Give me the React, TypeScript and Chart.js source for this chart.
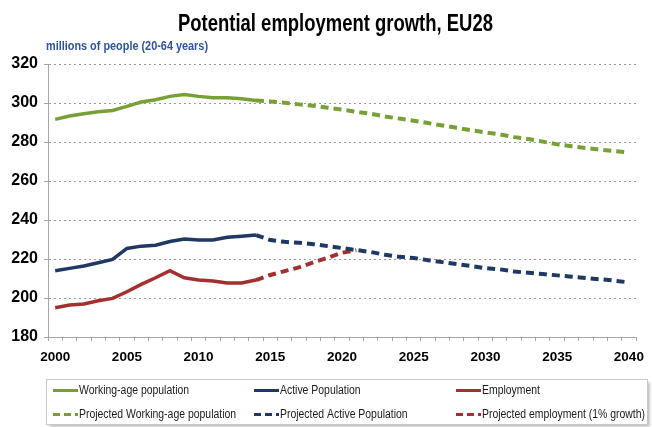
import React, { useEffect, useRef } from "react";
import { Chart, registerables } from "chart.js";

Chart.register(...registerables);

const years = [
  "2000", "2001", "2002", "2003", "2004", "2005", "2006", "2007", "2008", "2009",
  "2010", "2011", "2012", "2013", "2014", "2015", "2016", "2017", "2018", "2019",
  "2020", "2021", "2022", "2023", "2024", "2025", "2026", "2027", "2028", "2029",
  "2030", "2031", "2032", "2033", "2034", "2035", "2036", "2037", "2038", "2039",
  "2040",
];

const yTicks = [180, 200, 220, 240, 260, 280, 300, 320];

// 2000-2014
const workingAge = [291.6, 293.3, 294.5, 295.5, 296.2, 298.3, 300.5, 301.7, 303.4, 304.4, 303.4, 302.7, 302.7, 302.2, 301.3];
const active = [214.0, 215.2, 216.4, 218.1, 219.8, 225.4, 226.6, 227.1, 229.0, 230.3, 229.7, 229.7, 231.1, 231.7, 232.3];
const employment = [195.0, 196.4, 196.9, 198.6, 199.8, 203.2, 207.0, 210.4, 214.0, 210.4, 209.2, 208.7, 207.7, 207.7, 209.2];

// 2014-2040
const projWorkingAge = [301.3, 300.8, 300.1, 299.3, 298.6, 297.6, 296.6, 295.5, 294.5, 293.1, 292.0, 290.9, 289.7, 288.5, 287.3, 286.0, 284.9, 283.9, 282.5, 281.5, 280.2, 278.8, 277.8, 276.9, 276.1, 275.4, 274.6];
const projActive = [232.3, 229.7, 228.8, 228.3, 227.6, 226.6, 225.6, 224.6, 223.6, 222.2, 221.1, 220.5, 219.4, 218.4, 217.4, 216.4, 215.3, 214.7, 213.6, 212.9, 212.3, 211.6, 210.9, 210.2, 209.6, 208.9, 208.0];
// 2014-2021
const projEmployment = [209.2, 211.8, 213.8, 215.7, 218.3, 220.6, 223.2, 224.5];

const seriesLabels = [
  "Working-age population",
  "Active Population",
  "Employment",
  "Projected Working-age population",
  "Projected Active Population",
  "Projected employment (1% growth)",
];

const titleText = "Potential employment growth, EU28";
const unitText = "millions of people (20-64 years)";

const GREEN = "#77A037";
const BLUE = "#1F3864";
const RED = "#A3302F";
const FONT = '"Liberation Sans", Arial, sans-serif';

const PROJ_START = years.indexOf("2014");

function placeSolid(vals: number[]) {
  const out: (number | null)[] = years.map(() => null);
  vals.forEach((v, i) => (out[i] = v));
  return out;
}
function placeProj(vals: number[]) {
  const out: (number | null)[] = years.map(() => null);
  vals.forEach((v, i) => (out[PROJ_START + i] = v));
  return out;
}

// draw text horizontally condensed by factor sx (narrow-font look)
function drawNarrow(
  ctx: CanvasRenderingContext2D,
  text: string,
  x: number,
  y: number,
  sx: number,
  align: "left" | "center"
) {
  const w = ctx.measureText(text).width * sx;
  const left = align === "center" ? x - w / 2 : x;
  ctx.save();
  ctx.translate(left, y);
  ctx.scale(sx, 1);
  ctx.textAlign = "left";
  ctx.fillText(text, 0, 0);
  ctx.restore();
}

const decorPlugin = {
  id: "decor",
  afterDraw(chart: any) {
    const ctx = chart.ctx as CanvasRenderingContext2D;
    ctx.save();
    ctx.textBaseline = "alphabetic";
    // Title
    ctx.fillStyle = "#000000";
    ctx.font = `bold 23px ${FONT}`;
    const tw = ctx.measureText(titleText).width;
    drawNarrow(ctx, titleText, 335.5, 31, 315 / tw, "center");
    // Unit label
    ctx.fillStyle = "#2E5597";
    ctx.font = `bold 12.5px ${FONT}`;
    const uw = ctx.measureText(unitText).width;
    drawNarrow(ctx, unitText, 46, 50, 162 / uw, "left");

    // Legend box
    ctx.save();
    ctx.shadowColor = "rgba(0,0,0,0.3)";
    ctx.shadowOffsetX = 2;
    ctx.shadowOffsetY = 2;
    ctx.shadowBlur = 3;
    ctx.fillStyle = "#FFFFFF";
    ctx.fillRect(46.5, 379.5, 601, 45);
    ctx.restore();
    ctx.strokeStyle = "#C8C8C8";
    ctx.lineWidth = 1;
    ctx.strokeRect(46.5, 379.5, 601, 45);

    const colX = [53, 254, 456];
    const rowY = [390.5, 414.5];
    chart.data.datasets.forEach((ds: any, i: number) => {
      const col = i % 3;
      const row = Math.floor(i / 3);
      const x = colX[col];
      const y = rowY[row];
      ctx.beginPath();
      ctx.strokeStyle = ds.borderColor;
      ctx.lineWidth = 3;
      ctx.setLineDash(row === 1 ? [7, 4] : []);
      ctx.moveTo(x, y);
      ctx.lineTo(x + 25, y);
      ctx.stroke();
      ctx.setLineDash([]);
      ctx.fillStyle = "#1A1A1A";
      ctx.font = `12px ${FONT}`;
      ctx.textBaseline = "middle";
      drawNarrow(ctx, ds.label, x + 26, y, 0.87, "left");
    });
    ctx.restore();
  },
};

export default function App() {
  const ref = useRef<HTMLCanvasElement | null>(null);

  useEffect(() => {
    if (!ref.current) return;
    const mk = (label: string, data: (number | null)[], color: string, dashed: boolean) => ({
      label,
      data,
      borderColor: color,
      backgroundColor: color,
      borderWidth: dashed ? 4 : 3.5,
      borderDash: dashed ? [8, 5] : [],
      pointRadius: 0,
      pointHoverRadius: 0,
      tension: 0,
      fill: false,
      spanGaps: false,
    });
    const chart = new Chart(ref.current, {
      type: "line",
      data: {
        labels: years,
        datasets: [
          mk(seriesLabels[0], placeSolid(workingAge), GREEN, false),
          mk(seriesLabels[1], placeSolid(active), BLUE, false),
          mk(seriesLabels[2], placeSolid(employment), RED, false),
          mk(seriesLabels[3], placeProj(projWorkingAge), GREEN, true),
          mk(seriesLabels[4], placeProj(projActive), BLUE, true),
          mk(seriesLabels[5], placeProj(projEmployment), RED, true),
        ],
      },
      options: {
        animation: false,
        responsive: true,
        maintainAspectRatio: false,
        layout: { padding: { top: 64, right: 9, bottom: 57, left: 0 } },
        plugins: {
          legend: { display: false },
          title: { display: false },
          tooltip: { enabled: false },
        },
        scales: {
          x: {
            type: "category",
            offset: true,
            grid: {
              display: true,
              drawOnChartArea: false,
              drawTicks: true,
              tickLength: 4,
              offset: true,
              color: "#A6A6A6",
              tickColor: "#A6A6A6",
              tickWidth: 1,
            },
            border: { display: true, color: "#A6A6A6", width: 1 },
            ticks: {
              autoSkip: false,
              maxRotation: 0,
              minRotation: 0,
              padding: 8,
              color: "#000000",
              font: { family: FONT, size: 13.5, weight: "bold" },
              callback: (_v: any, i: number) => (Number(years[i]) % 5 === 0 ? years[i] : ""),
            },
            afterFit: (s: any) => {
              s.height = 33;
            },
          },
          y: {
            type: "linear",
            min: yTicks[0],
            max: yTicks[yTicks.length - 1],
            afterBuildTicks: (s: any) => {
              s.ticks = yTicks.map((v) => ({ value: v }));
            },
            grid: {
              color: "#9A9A9A",
              borderDash: [2, 3],
              tickBorderDash: [],
              tickColor: "#A6A6A6",
              tickLength: 4,
              drawTicks: true,
            },
            border: { display: true, color: "#A6A6A6", width: 1, dash: [2, 3] },
            ticks: {
              padding: 6,
              color: "#000000",
              font: { family: FONT, size: 16, weight: "bold" },
            },
            afterFit: (s: any) => {
              s.width = 48;
            },
          },
        },
      } as any,
      plugins: [decorPlugin],
    });
    return () => chart.destroy();
  }, []);

  return (
    <div style={{ position: "absolute", left: 0, top: 0, width: 652, height: 427, background: "#fff" }}>
      <canvas ref={ref} />
    </div>
  );
}
